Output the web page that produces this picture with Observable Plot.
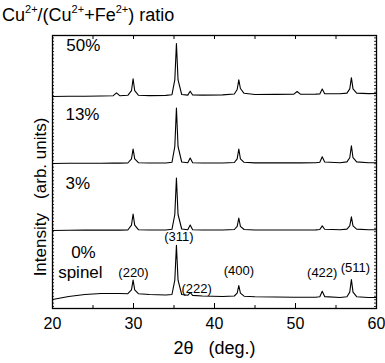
<!DOCTYPE html>
<html><head><meta charset="utf-8">
<script src="https://cdn.jsdelivr.net/npm/d3@7"></script>
<script src="https://cdn.jsdelivr.net/npm/@observablehq/plot@0.6"></script>
<style>
body{margin:0;background:#fff;}
#wrap{position:relative;width:385px;height:363px;font-family:"Liberation Sans",Arial,sans-serif;}
#title{position:absolute;left:2px;top:6px;font-size:18px;line-height:1;color:#000;white-space:nowrap;z-index:2;}
#title sup{font-size:11px;vertical-align:0;position:relative;top:-8px;}
</style></head><body>
<div id="wrap"><div id="title">Cu<sup>2+</sup>/(Cu<sup>2+</sup>+Fe<sup>2+</sup>) ratio</div></div>
<script>
// 2θ sample points (deg.)
const twoTheta = [20, 22, 24, 26, 27.5, 27.9, 28.3, 29.3, 29.75, 29.95, 30.15, 30.6, 32, 34, 34.75, 35.1, 35.3, 35.5, 35.95, 36.7, 37.0, 37.3, 38.5, 41, 42.45, 42.8, 43.0, 43.2, 43.65, 45, 47.5, 49.8, 50.2, 50.6, 52.5, 53.0, 53.3, 53.6, 55.5, 56.35, 56.7, 56.9, 57.1, 57.55, 59, 60];
// intensities (arb. units)
const int0 = [0, 3, 5, 6, 6, 6, 6, 5.8, 9.7, 19.5, 9.7, 5.8, 5, 4.5, 5, 19.3, 54.3, 19.3, 5, 4.2, 7, 4.1, 3.5, 3, 3.5, 6.3, 14, 6.3, 3.3, 2.8, 2.5, 2.3, 2.3, 2.3, 2.2, 2.7, 8.2, 2.9, 2, 2.8, 7.4, 20, 7.4, 2.8, 2, 2];
const int3 = [0, 0.3, 0.4, 0.4, 0.4, 0.4, 0.4, 0.5, 5.3, 16.5, 5.3, 0.8, 0.5, 0.5, 1.2, 16, 52.5, 16, 1.5, 0.8, 5.5, 0.8, 0.5, 0.5, 1, 4.2, 12.5, 4.2, 1, 0.5, 0.5, 0.5, 0.5, 0.5, 0.6, 1, 4.6, 1.2, 0.7, 1.4, 4.6, 13.7, 4.6, 1.4, 0.7, 0.7];
const int13 = [0, 0.2, 0.3, 0.3, 0.4, 0.4, 0.4, 0.5, 4.7, 14.5, 4.7, 0.8, 0.5, 0.5, 1.2, 17, 55.5, 17, 1.5, 0.8, 5.5, 0.8, 0.5, 0.5, 1, 4.7, 14.5, 4.7, 1.2, 0.6, 0.6, 0.6, 0.6, 0.6, 0.7, 1.2, 6.7, 1.5, 0.8, 1.6, 5.8, 17.8, 5.8, 1.6, 0.8, 0.8];
const int50 = [0, 0.2, 0.3, 0.5, 0.8, 3.6, 0.8, 1.2, 5.8, 17.7, 5.8, 1.3, 0.9, 1.1, 1.8, 16.6, 53, 16.6, 2, 1.4, 5.3, 1.5, 1.4, 1.6, 2.5, 7, 16.7, 8, 3.2, 2, 2.1, 2.3, 5, 2.3, 2.4, 2.6, 7.5, 2.8, 2.7, 3.4, 7.6, 18.8, 7.6, 3.4, 2.9, 3];
const seriesNames = ["0%", "3%", "13%", "50%"];
const seriesOffsets = [9, 78, 145, 212];
const seriesLabelX = [22.3, 21.6, 21.6, 21.7];
const seriesLabelY = [47, 47, 49, 51];
// peak labels (hkl) of spinel
const peakNames = ["(220)", "(311)", "(222)", "(400)", "(422)", "(511)"];
const peakLabelX = [30.0, 35.6, 37.8, 43.0, 53.3, 57.4];
const peakLabelY = [36, 72, 20, 38, 36, 41];
const xMajor = [20, 30, 40, 50, 60];
const xMinor = [25, 35, 45, 55];
const xTopTicks = [25, 30, 35, 40, 45, 50, 55];
const yMinor = d3.range(2, 273, 3.4);

const intensities = [int0, int3, int13, int50];
const rows = [];
seriesNames.forEach((s, k) => {
  twoTheta.forEach((t, i) => rows.push({series: s, x: t, y: seriesOffsets[k] + intensities[k][i]}));
});
const seriesLabels = seriesNames.map((s, k) => ({text: s, x: seriesLabelX[k], y: seriesOffsets[k] + seriesLabelY[k]}));
seriesLabels.push({text: "spinel", x: 20.7, y: seriesOffsets[0] + 27});
const peakLabels = peakNames.map((p, i) => ({text: p, x: peakLabelX[i], y: peakLabelY[i]}));

const font = "'Liberation Sans', Arial, sans-serif";
const chart = Plot.plot({
  width: 385, height: 363,
  marginLeft: 52, marginRight: 9, marginTop: 35, marginBottom: 55,
  style: {fontFamily: font, color: "#000", background: "#fff", overflow: "visible"},
  x: {domain: [20, 60]},
  y: {domain: [0, 273], axis: null},
  marks: [
    Plot.ruleX(xMajor, {y1: 0, y2: 5, stroke: "#000", strokeWidth: 1}),
    Plot.ruleX(xMinor, {y1: 0, y2: 3, stroke: "#000", strokeWidth: 1}),
    Plot.ruleX(xTopTicks, {y1: 273, y2: 269, stroke: "#000", strokeWidth: 1}),
    Plot.ruleY(yMinor, {x1: 20, x2: 20.25, stroke: "#000", strokeWidth: 0.8}),
    Plot.ruleY(yMinor, {x1: 59.75, x2: 60, stroke: "#000", strokeWidth: 0.8}),
    Plot.line(rows, {x: "x", y: "y", z: "series", stroke: "#000", strokeWidth: 1.1, curve: "linear"}),
    Plot.frame({stroke: "#000", strokeWidth: 1.3}),
    Plot.axisX({ticks: xMajor, tickSize: 0, tickPadding: 9, fontSize: 16, label: null, tickFormat: d => String(d)}),
    Plot.text(seriesLabels, {x: "x", y: "y", text: "text", textAnchor: "start", fontSize: 17, fill: "#000"}),
    Plot.text(peakLabels, {x: "x", y: "y", text: "text", fontSize: 13, fill: "#000"}),
    Plot.text(["2\u03b8\u00a0\u00a0\u00a0(deg.)"], {frameAnchor: "bottom", dy: 45, fontSize: 18, fill: "#000"}),
    Plot.text(["Intensity\u00a0\u00a0\u00a0(arb. units)"], {frameAnchor: "left", textAnchor: "middle", rotate: -90, dx: -12, dy: 25, fontSize: 17, fill: "#000"})
  ]
});
chart.style.position = "absolute";
chart.style.left = "0";
chart.style.top = "0";
document.getElementById("wrap").appendChild(chart);
</script>
</body></html>
